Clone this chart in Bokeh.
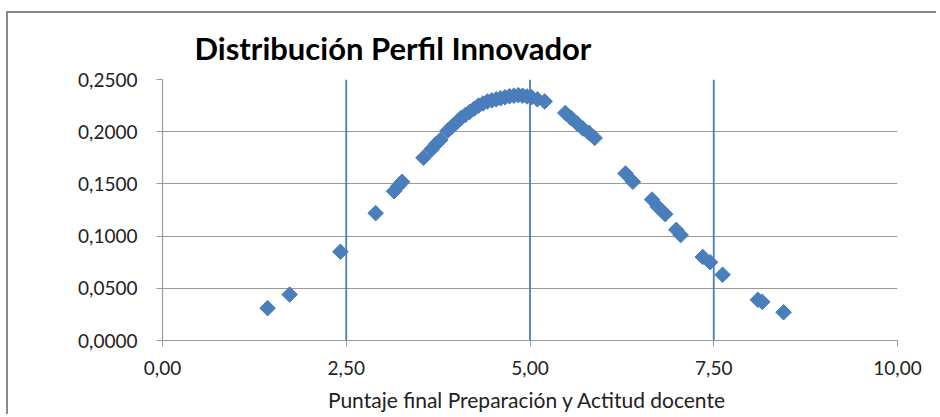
from bokeh.plotting import figure
from bokeh.models import FixedTicker, CustomJSTickFormatter, Range1d, ColumnDataSource
from bokeh.embed import file_html
from bokeh.resources import INLINE
import numpy as np

# ---- data ----
puntaje = [1.43, 1.73, 2.42, 2.90, 3.15, 3.21, 3.26, 3.55, 3.66, 3.72, 3.78,
           3.88, 3.94, 4.00, 4.06, 4.12, 4.18, 4.24, 4.30, 4.36, 4.42, 4.48,
           4.54, 4.60, 4.66, 4.72, 4.78, 4.84, 4.90, 4.96, 5.02, 5.10, 5.20,
           5.48, 5.56, 5.64, 5.72, 5.80, 5.88,
           6.30, 6.40, 6.66, 6.74, 6.84, 6.99, 7.05,
           7.35, 7.45, 7.62, 8.10, 8.16, 8.45]
densidad = [0.031, 0.044, 0.085, 0.122, 0.143, 0.148, 0.152, 0.175, 0.183, 0.188, 0.192,
            0.201, 0.205, 0.209, 0.213, 0.216, 0.219, 0.222, 0.225, 0.227, 0.229, 0.230,
            0.231, 0.232, 0.233, 0.234, 0.2345, 0.235, 0.2345, 0.2338, 0.233, 0.231, 0.229,
            0.218, 0.213, 0.208, 0.203, 0.199, 0.194,
            0.160, 0.152, 0.135, 0.128, 0.121, 0.106, 0.101,
            0.080, 0.075, 0.063, 0.039, 0.037, 0.027]
ref_lines_x = [2.5, 5.0, 7.5]
x_ticks = [0, 2.5, 5, 7.5, 10]
y_ticks = [0, 0.05, 0.10, 0.15, 0.20, 0.25]

title_text = "Distribución Perfil Innovador"
x_label = "Puntaje final  Preparación y Actitud docente"

BLUE = "#4A7EBB"
GRID = "#9a9a9a"
FONT = "Lato"

p = figure(width=930, height=403, output_backend="svg", toolbar_location=None,
           x_range=Range1d(0, 10), y_range=Range1d(0, 0.25),
           min_border_left=154, min_border_right=41, min_border_top=66, min_border_bottom=76)
p.styles = {"border-top": "2px solid #8a8a8a", "border-left": "2px solid #8a8a8a",
            "margin-top": "11px", "margin-left": "6px"}

p.title.text = title_text
p.title.text_font = FONT
p.title.text_font_style = "bold"
p.title.text_font_size = "31px"
p.title.text_color = "#000000"
p.title.offset = 32
p.title.standoff = 25

p.outline_line_color = None
p.xgrid.grid_line_color = None
p.ygrid.grid_line_color = GRID
p.ygrid.grid_line_width = 1.2

for ax in (p.xaxis[0], p.yaxis[0]):
    ax.axis_line_color = GRID
    ax.axis_line_width = 1.2
    ax.major_tick_line_color = GRID
    ax.major_tick_in = 0
    ax.major_tick_out = 6
    ax.minor_tick_line_color = None
    ax.major_label_text_font = FONT
    ax.major_label_text_font_size = "19px"
    ax.major_label_text_color = "#222222"

p.xaxis.ticker = FixedTicker(ticks=x_ticks)
p.yaxis.ticker = FixedTicker(ticks=y_ticks)
p.xaxis.formatter = CustomJSTickFormatter(code="return tick.toFixed(2).replace('.', ',');")
p.yaxis.formatter = CustomJSTickFormatter(code="return tick.toFixed(4).replace('.', ',');")
p.yaxis.major_label_standoff = 19
p.xaxis.major_label_standoff = 14
p.xaxis.axis_label = x_label
p.xaxis.axis_label_text_font = FONT
p.xaxis.axis_label_text_font_style = "normal"
p.xaxis.axis_label_text_font_size = "21px"
p.xaxis.axis_label_text_color = "#222222"
p.xaxis.axis_label_standoff = 9

p.segment(x0=ref_lines_x, y0=[0] * len(ref_lines_x), x1=ref_lines_x, y1=[0.25] * len(ref_lines_x),
          line_color=BLUE, line_width=1.8)

src = ColumnDataSource(dict(x=puntaje, y=densidad))
p.scatter("x", "y", source=src, marker="square", angle=np.pi / 4, size=11,
          fill_color=BLUE, line_color=BLUE)

open("out.html", "w").write(file_html(p, INLINE))
